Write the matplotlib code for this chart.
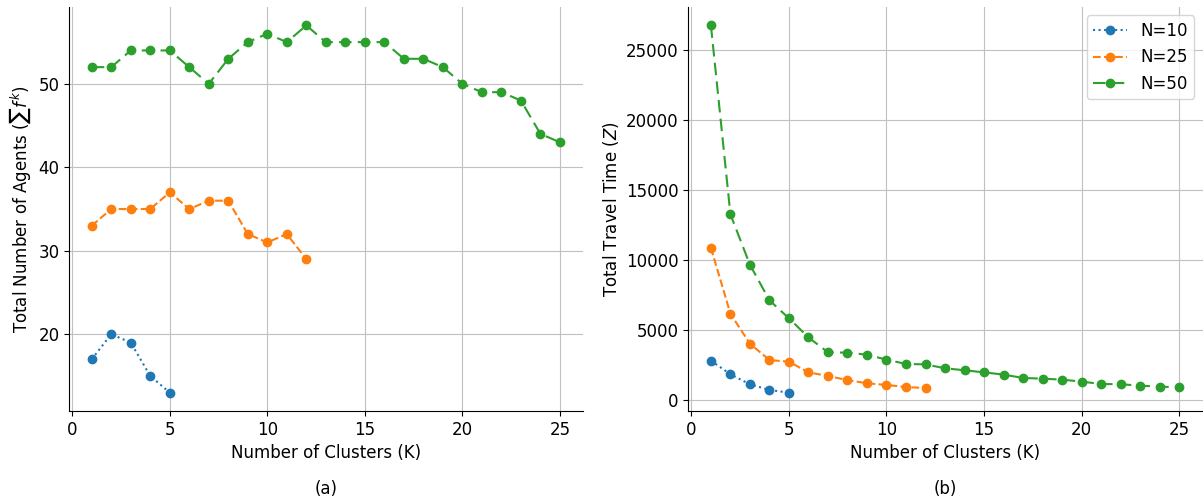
import matplotlib
matplotlib.use("Agg")
import matplotlib.pyplot as plt

# number of clusters for each fleet size
k10 = [1, 2, 3, 4, 5]
k25 = list(range(1, 13))
k50 = list(range(1, 26))

# total number of agents
agents10 = [17, 20, 19, 15, 13]
agents25 = [33, 35, 35, 35, 37, 35, 36, 36, 32, 31, 32, 29]
agents50 = [52, 52, 54, 54, 54, 52, 50, 53, 55, 56, 55, 57, 55,
            55, 55, 55, 53, 53, 52, 50, 49, 49, 48, 44, 43]

# total travel time
time10 = [2790, 1810, 1100, 690, 500]
time25 = [10850, 6140, 4000, 2830, 2710, 1950, 1690, 1400, 1170, 1050, 900, 830]
time50 = [26740, 13240, 9640, 7100, 5810, 4450, 3380, 3360, 3210, 2860,
          2550, 2520, 2240, 2100, 1950, 1790, 1550, 1500, 1430, 1290,
          1120, 1100, 1000, 930, 880]

labels = ['N=10', 'N=25', 'N=50']
colors = ['#1f77b4', '#ff7f0e', '#2ca02c']
styles = [':', '--', (0, (6, 3))]

plt.rcParams['font.size'] = 12

fig = plt.figure(figsize=(12.03, 5.04), dpi=100)
ax1 = fig.add_axes([0.0576, 0.1845, 0.4273, 0.8015])
ax2 = fig.add_axes([0.5723, 0.1845, 0.4273, 0.8015])

ks = [k10, k25, k50]
for ax, ys in [(ax1, [agents10, agents25, agents50]), (ax2, [time10, time25, time50])]:
    for k, y, lab, c, ls in zip(ks, ys, labels, colors, styles):
        ax.plot(k, y, linestyle=ls, marker='o', color=c, label=lab, markersize=6)
    ax.grid(True, color='#c0c0c0')
    ax.set_axisbelow(True)
    ax.spines['top'].set_visible(False)
    ax.spines['right'].set_visible(False)
    ax.set_xlim(-0.15, 26.2)
    ax.set_xticks([0, 5, 10, 15, 20, 25])
    ax.set_xlabel('Number of Clusters (K)')

ax1.set_yticks([20, 30, 40, 50])
ax1.set_ylabel(r'Total Number of Agents ($\sum f^k$)')
ax2.set_yticks([0, 5000, 10000, 15000, 20000, 25000])
ax2.set_ylabel(r'Total Travel Time ($Z$)')
ax2.legend(loc='upper right', fontsize=12)

fig.text(0.271, 0.02, '(a)', ha='center', fontsize=12)
fig.text(0.786, 0.02, '(b)', ha='center', fontsize=12)

plt.savefig('out.png', dpi=100)
